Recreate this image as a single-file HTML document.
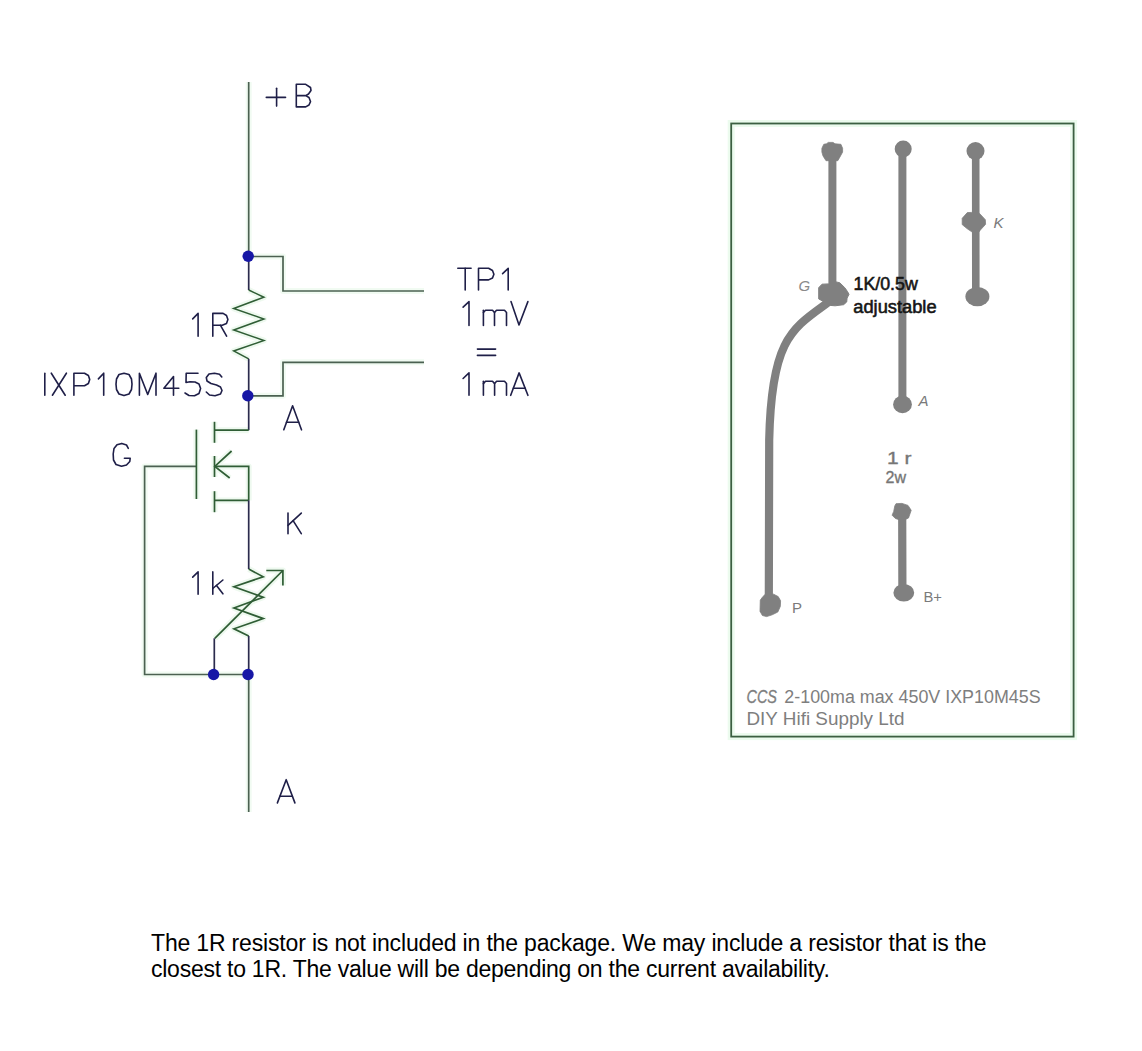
<!DOCTYPE html>
<html><head><meta charset="utf-8"><title>CCS</title>
<style>
html,body{margin:0;padding:0;background:#fff;width:1142px;height:1051px;overflow:hidden}
svg{position:absolute;left:0;top:0}
svg text{font-family:"Liberation Sans",sans-serif}
.p{position:absolute;left:151px;font-family:"Liberation Sans",sans-serif;font-size:23px;line-height:26px;color:#000;white-space:nowrap;margin:0}
</style></head><body>
<svg width="1142" height="1051" viewBox="0 0 1142 1051">
<path d="M248.7 82.0 L248.7 256.0" stroke="#f1fbf2" stroke-width="6" fill="none" stroke-linejoin="round"/>
<path d="M248.7 256.5 L283.0 256.5 L283.0 291.0 L424.0 291.0" stroke="#f1fbf2" stroke-width="6" fill="none" stroke-linejoin="round"/>
<path d="M248.7 395.8 L283.0 395.8 L283.0 362.3 L424.0 362.3" stroke="#f1fbf2" stroke-width="6" fill="none" stroke-linejoin="round"/>
<path d="M196.4 466.4 L144.6 466.4 L144.6 674.5 L248.7 674.5" stroke="#f1fbf2" stroke-width="6" fill="none" stroke-linejoin="round"/>
<path d="M248.7 674.5 L248.7 812.0" stroke="#f1fbf2" stroke-width="6" fill="none" stroke-linejoin="round"/>
<path d="M248.7 290.0 L263.9 297.2 L233.7 308.5 L263.9 319.0 L233.7 330.0 L263.9 340.5 L233.7 351.0 L248.7 358.8" stroke="#eef9ef" stroke-width="6" fill="none" stroke-linejoin="round"/>
<path d="M248.7 430.2 L214.5 430.2" stroke="#eef9ef" stroke-width="6" fill="none" stroke-linejoin="round"/>
<path d="M214.5 421.8 L214.5 442.8" stroke="#eef9ef" stroke-width="6" fill="none" stroke-linejoin="round"/>
<path d="M214.5 456.0 L214.5 477.0" stroke="#eef9ef" stroke-width="6" fill="none" stroke-linejoin="round"/>
<path d="M214.5 491.2 L214.5 512.2" stroke="#eef9ef" stroke-width="6" fill="none" stroke-linejoin="round"/>
<path d="M196.4 429.6 L196.4 499.0" stroke="#eef9ef" stroke-width="6" fill="none" stroke-linejoin="round"/>
<path d="M214.5 466.4 L248.7 466.4 L248.7 500.4" stroke="#eef9ef" stroke-width="6" fill="none" stroke-linejoin="round"/>
<path d="M231.6 451.0 L214.8 466.4 L229.7 478.0" stroke="#eef9ef" stroke-width="6" fill="none" stroke-linejoin="round"/>
<path d="M214.5 500.4 L248.7 500.4" stroke="#eef9ef" stroke-width="6" fill="none" stroke-linejoin="round"/>
<path d="M248.7 569.0 L263.2 576.8 L234.0 586.8 L263.2 597.3 L234.0 608.0 L263.2 618.6 L234.0 628.8 L248.7 635.9" stroke="#eef9ef" stroke-width="6" fill="none" stroke-linejoin="round"/>
<path d="M214.8 638.3 L282.9 570.5" stroke="#eef9ef" stroke-width="6" fill="none" stroke-linejoin="round"/>
<path d="M266.3 570.5 L282.9 570.5 L282.9 585.5" stroke="#eef9ef" stroke-width="6" fill="none" stroke-linejoin="round"/>
<path d="M248.7 82.0 L248.7 256.0" stroke="#4b6151" stroke-width="1.7" fill="none" />
<path d="M248.7 256.5 L283.0 256.5 L283.0 291.0 L424.0 291.0" stroke="#4b6151" stroke-width="1.7" fill="none" />
<path d="M248.7 395.8 L283.0 395.8 L283.0 362.3 L424.0 362.3" stroke="#4b6151" stroke-width="1.7" fill="none" />
<path d="M196.4 466.4 L144.6 466.4 L144.6 674.5 L248.7 674.5" stroke="#4b6151" stroke-width="1.7" fill="none" />
<path d="M248.7 674.5 L248.7 812.0" stroke="#4b6151" stroke-width="1.7" fill="none" />
<path d="M248.7 256.0 L248.7 290.0" stroke="#2b2b4d" stroke-width="1.7" fill="none" />
<path d="M248.7 290.0 L263.9 297.2 L233.7 308.5 L263.9 319.0 L233.7 330.0 L263.9 340.5 L233.7 351.0 L248.7 358.8" stroke="#2f5d35" stroke-width="1.5" fill="none" stroke-linejoin="miter"/>
<path d="M248.7 358.8 L248.7 395.8" stroke="#2b2b4d" stroke-width="1.7" fill="none" />
<path d="M248.7 395.8 L248.7 430.2" stroke="#2b2b4d" stroke-width="1.7" fill="none" />
<path d="M248.7 430.2 L214.5 430.2" stroke="#2f5d35" stroke-width="1.7" fill="none" />
<path d="M214.5 421.8 L214.5 442.8" stroke="#2f5d35" stroke-width="1.7" fill="none" />
<path d="M214.5 456.0 L214.5 477.0" stroke="#2f5d35" stroke-width="1.7" fill="none" />
<path d="M214.5 491.2 L214.5 512.2" stroke="#2f5d35" stroke-width="1.7" fill="none" />
<path d="M196.4 429.6 L196.4 499.0" stroke="#2f5d35" stroke-width="1.7" fill="none" />
<path d="M214.5 466.4 L248.7 466.4 L248.7 500.4" stroke="#2f5d35" stroke-width="1.7" fill="none" />
<path d="M231.6 451.0 L214.8 466.4 L229.7 478.0" stroke="#2f5d35" stroke-width="1.7" fill="none" />
<path d="M214.5 500.4 L248.7 500.4" stroke="#2f5d35" stroke-width="1.7" fill="none" />
<path d="M248.7 500.4 L248.7 569.0" stroke="#2b2b4d" stroke-width="1.7" fill="none" />
<path d="M248.7 569.0 L263.2 576.8 L234.0 586.8 L263.2 597.3 L234.0 608.0 L263.2 618.6 L234.0 628.8 L248.7 635.9" stroke="#2f5d35" stroke-width="1.7" fill="none" />
<path d="M248.7 635.9 L248.7 674.5" stroke="#2b2b4d" stroke-width="1.7" fill="none" />
<path d="M214.8 638.3 L282.9 570.5" stroke="#2f5d35" stroke-width="1.7" fill="none" />
<path d="M266.3 570.5 L282.9 570.5 L282.9 585.5" stroke="#2f5d35" stroke-width="1.7" fill="none" />
<path d="M214.3 638.3 L214.3 674.5" stroke="#2b2b4d" stroke-width="1.7" fill="none" />
<circle cx="248.2" cy="256.2" r="5.7" fill="#1717a6"/>
<circle cx="247.8" cy="395.8" r="5.7" fill="#1717a6"/>
<circle cx="213.6" cy="674.5" r="5.7" fill="#1717a6"/>
<circle cx="248.0" cy="674.5" r="5.7" fill="#1717a6"/>
<path d="M266.3 97.4 L285.5 97.4" stroke="#1f1f48" stroke-width="1.6" fill="none" stroke-linejoin="round" stroke-linecap="round"/>
<path d="M276.6 88.2 L276.6 106.1" stroke="#1f1f48" stroke-width="1.6" fill="none" stroke-linejoin="round" stroke-linecap="round"/>
<path d="M305.7 95.6 L296.3 95.6 L296.3 84.3 L305.7 84.3 L310.5 87.5 L311.0 90.5 L308.5 94.0 L305.7 95.6 L309.0 97.5 L310.5 101.6 L309.0 105.0 L305.7 106.9 L296.3 106.9 L296.3 95.6" stroke="#1f1f48" stroke-width="1.6" fill="none" stroke-linejoin="round" stroke-linecap="round"/>
<path d="M457.8 268.3 L471.1 268.3" stroke="#1f1f48" stroke-width="1.6" fill="none" stroke-linejoin="round" stroke-linecap="round"/>
<path d="M465.2 268.3 L465.2 290.0" stroke="#1f1f48" stroke-width="1.6" fill="none" stroke-linejoin="round" stroke-linecap="round"/>
<path d="M478.5 290.0 L478.5 268.3 L488.6 268.3 L492.5 270.5 L493.9 274.3 L492.5 278.0 L488.6 279.9 L478.5 279.9" stroke="#1f1f48" stroke-width="1.6" fill="none" stroke-linejoin="round" stroke-linecap="round"/>
<path d="M502.6 273.6 L508.2 268.3 L508.2 290.0" stroke="#1f1f48" stroke-width="1.6" fill="none" stroke-linejoin="round" stroke-linecap="round"/>
<path d="M463.1 307.2 L469.0 301.6 L469.0 325.4" stroke="#1f1f48" stroke-width="1.6" fill="none" stroke-linejoin="round" stroke-linecap="round"/>
<path d="M483.4 325.4 L483.4 310.2" stroke="#1f1f48" stroke-width="1.6" fill="none" stroke-linejoin="round" stroke-linecap="round"/>
<path d="M483.4 312.5 L485.5 310.2 L492.5 310.2 L494.5 312.5 L494.5 325.4" stroke="#1f1f48" stroke-width="1.6" fill="none" stroke-linejoin="round" stroke-linecap="round"/>
<path d="M494.5 312.5 L496.5 310.2 L504.5 310.2 L506.5 312.5 L506.5 325.4" stroke="#1f1f48" stroke-width="1.6" fill="none" stroke-linejoin="round" stroke-linecap="round"/>
<path d="M511.0 301.6 L519.0 325.0 L527.9 301.6" stroke="#1f1f48" stroke-width="1.6" fill="none" stroke-linejoin="round" stroke-linecap="round"/>
<path d="M477.4 349.1 L495.6 349.1" stroke="#1f1f48" stroke-width="1.6" fill="none" stroke-linejoin="round" stroke-linecap="round"/>
<path d="M477.4 355.4 L495.6 355.4" stroke="#1f1f48" stroke-width="1.6" fill="none" stroke-linejoin="round" stroke-linecap="round"/>
<path d="M463.1 378.5 L469.0 372.9 L469.0 395.3" stroke="#1f1f48" stroke-width="1.6" fill="none" stroke-linejoin="round" stroke-linecap="round"/>
<path d="M483.4 395.3 L483.4 381.3" stroke="#1f1f48" stroke-width="1.6" fill="none" stroke-linejoin="round" stroke-linecap="round"/>
<path d="M483.4 383.6 L485.5 381.3 L492.5 381.3 L494.6 383.6 L494.6 395.3" stroke="#1f1f48" stroke-width="1.6" fill="none" stroke-linejoin="round" stroke-linecap="round"/>
<path d="M494.6 383.6 L496.6 381.3 L504.5 381.3 L506.5 383.6 L506.5 395.3" stroke="#1f1f48" stroke-width="1.6" fill="none" stroke-linejoin="round" stroke-linecap="round"/>
<path d="M510.7 395.3 L519.1 372.9 L527.9 395.3" stroke="#1f1f48" stroke-width="1.6" fill="none" stroke-linejoin="round" stroke-linecap="round"/>
<path d="M513.3 388.3 L525.3 388.3" stroke="#1f1f48" stroke-width="1.6" fill="none" stroke-linejoin="round" stroke-linecap="round"/>
<path d="M192.7 318.9 L198.1 313.4 L198.1 336.2" stroke="#1f1f48" stroke-width="1.6" fill="none" stroke-linejoin="round" stroke-linecap="round"/>
<path d="M212.8 336.2 L212.8 313.4 L223.1 313.4 L226.5 315.5 L227.9 319.6 L226.5 323.5 L222.2 325.3 L212.8 325.3" stroke="#1f1f48" stroke-width="1.6" fill="none" stroke-linejoin="round" stroke-linecap="round"/>
<path d="M220.5 325.3 L226.6 336.2" stroke="#1f1f48" stroke-width="1.6" fill="none" stroke-linejoin="round" stroke-linecap="round"/>
<path d="M44.8 373.2 L44.8 395.2" stroke="#1f1f48" stroke-width="1.6" fill="none" stroke-linejoin="round" stroke-linecap="round"/>
<path d="M51.3 373.2 L65.2 395.2" stroke="#1f1f48" stroke-width="1.6" fill="none" stroke-linejoin="round" stroke-linecap="round"/>
<path d="M66.4 373.2 L52.4 395.2" stroke="#1f1f48" stroke-width="1.6" fill="none" stroke-linejoin="round" stroke-linecap="round"/>
<path d="M73.9 395.2 L73.9 373.2 L84.5 373.2 L88.4 375.5 L89.7 379.5 L88.4 383.5 L84.5 385.7 L73.9 385.7" stroke="#1f1f48" stroke-width="1.6" fill="none" stroke-linejoin="round" stroke-linecap="round"/>
<path d="M98.4 378.9 L103.7 373.2 L103.7 395.2" stroke="#1f1f48" stroke-width="1.6" fill="none" stroke-linejoin="round" stroke-linecap="round"/>
<path d="M124.0 373.2 L119.0 374.5 L116.5 379.0 L116.0 384.2 L116.5 389.5 L119.0 394.0 L124.0 395.6 L129.0 394.0 L131.5 389.5 L132.0 384.2 L131.5 379.0 L129.0 374.5 L124.0 373.2" stroke="#1f1f48" stroke-width="1.6" fill="none" stroke-linejoin="round" stroke-linecap="round"/>
<path d="M139.4 395.2 L139.4 373.2 L147.7 394.5 L156.0 373.2 L156.0 395.2" stroke="#1f1f48" stroke-width="1.6" fill="none" stroke-linejoin="round" stroke-linecap="round"/>
<path d="M173.5 395.2 L173.5 376.5 L163.9 388.3 L178.8 388.3" stroke="#1f1f48" stroke-width="1.6" fill="none" stroke-linejoin="round" stroke-linecap="round"/>
<path d="M198.0 373.2 L186.2 373.2 L186.0 382.5 L190.0 381.8 L195.0 382.0 L199.0 384.0 L200.6 388.5 L199.0 393.5 L194.5 395.8 L189.0 395.5 L185.0 393.0" stroke="#1f1f48" stroke-width="1.6" fill="none" stroke-linejoin="round" stroke-linecap="round"/>
<path d="M221.8 377.0 L219.5 374.2 L214.5 373.2 L209.0 374.0 L206.3 377.5 L207.0 381.0 L211.0 383.5 L216.5 385.0 L220.5 387.0 L222.0 390.5 L220.5 394.0 L215.0 395.8 L209.5 395.0 L206.3 392.0" stroke="#1f1f48" stroke-width="1.6" fill="none" stroke-linejoin="round" stroke-linecap="round"/>
<path d="M283.8 429.8 L292.6 405.8 L301.5 429.8" stroke="#1f1f48" stroke-width="1.6" fill="none" stroke-linejoin="round" stroke-linecap="round"/>
<path d="M286.4 422.3 L298.8 422.3" stroke="#1f1f48" stroke-width="1.6" fill="none" stroke-linejoin="round" stroke-linecap="round"/>
<path d="M128.3 448.3 L126.5 445.0 L121.8 443.4 L117.0 444.8 L114.0 448.5 L113.2 454.0 L113.5 460.0 L116.0 464.5 L121.5 466.3 L126.5 465.0 L129.8 461.5 L130.2 458.2 L124.4 458.2" stroke="#1f1f48" stroke-width="1.6" fill="none" stroke-linejoin="round" stroke-linecap="round"/>
<path d="M288.0 513.1 L288.0 533.7" stroke="#1f1f48" stroke-width="1.6" fill="none" stroke-linejoin="round" stroke-linecap="round"/>
<path d="M288.0 525.3 L301.3 513.1" stroke="#1f1f48" stroke-width="1.6" fill="none" stroke-linejoin="round" stroke-linecap="round"/>
<path d="M293.1 520.6 L301.3 533.7" stroke="#1f1f48" stroke-width="1.6" fill="none" stroke-linejoin="round" stroke-linecap="round"/>
<path d="M192.7 577.1 L198.1 571.9 L198.1 594.2" stroke="#1f1f48" stroke-width="1.6" fill="none" stroke-linejoin="round" stroke-linecap="round"/>
<path d="M212.8 571.9 L212.8 594.2" stroke="#1f1f48" stroke-width="1.6" fill="none" stroke-linejoin="round" stroke-linecap="round"/>
<path d="M212.8 588.5 L222.9 580.0" stroke="#1f1f48" stroke-width="1.6" fill="none" stroke-linejoin="round" stroke-linecap="round"/>
<path d="M216.5 585.4 L222.9 593.8" stroke="#1f1f48" stroke-width="1.6" fill="none" stroke-linejoin="round" stroke-linecap="round"/>
<path d="M277.4 802.9 L286.2 779.7 L294.9 802.9" stroke="#1f1f48" stroke-width="1.6" fill="none" stroke-linejoin="round" stroke-linecap="round"/>
<path d="M279.9 796.3 L292.3 796.3" stroke="#1f1f48" stroke-width="1.6" fill="none" stroke-linejoin="round" stroke-linecap="round"/>
<rect x="731.2" y="123.5" width="342.4" height="613.1" fill="none" stroke="#ecfbee" stroke-width="7"/>
<rect x="731.2" y="123.5" width="342.4" height="613.1" fill="none" stroke="#3b5f41" stroke-width="1.8"/>
<path d="M832.4 152.0 L832.4 292.0" stroke="#808080" stroke-width="8" fill="none" stroke-linecap="round" stroke-linejoin="round"/>
<path d="M902.4 149.0 L902.4 404.0" stroke="#808080" stroke-width="8" fill="none" stroke-linecap="round" stroke-linejoin="round"/>
<path d="M975.7 151.0 L975.8 296.0" stroke="#808080" stroke-width="7.6" fill="none" stroke-linecap="round" stroke-linejoin="round"/>
<path d="M902.2 511.0 L902.4 592.0" stroke="#808080" stroke-width="8.2" fill="none" stroke-linecap="round" stroke-linejoin="round"/>
<path d="M828 302.5 C792.3 328.5 771.4 338.2 769.2 440 L768.8 604" stroke="#808080" stroke-width="8.2" fill="none" stroke-linecap="round" stroke-linejoin="round"/>
<path d="M822 284.2 L828.6 283.9 L835.9 281.9 L839.7 282.7 L844.8 287.7 L847.5 291.6 L849 294.3 L847.1 298.1 L846.7 302 L843.6 304.7 L835.1 305.8 L830.5 305.4 L818.7 298.9 L818.7 287.7 Z" fill="#808080" stroke="#808080" stroke-width="1" stroke-linejoin="round"/>
<path d="M828.3 142.4 L833 142.4 L835 143.8 L840.9 144.3 L842.6 148.3 L842.6 152.1 L840.5 155.9 L837.8 160.7 L826 160.7 L823 155.9 L821.9 152.1 L821.9 148.3 L823.8 144.3 L826.5 143.8 Z" fill="#808080" stroke="#808080" stroke-width="0.8" stroke-linejoin="round"/>
<ellipse cx="903.2" cy="149" rx="8.5" ry="8.5" fill="#808080"/>
<ellipse cx="975.5" cy="151" rx="9" ry="9" fill="#808080"/>
<path d="M967.3 212.6 L971.8 212.4 L979.5 213.4 L985.3 219.7 L985.6 224.3 L980.2 230.2 L979.5 231.4 L971.8 231.8 L967.3 228.8 L962.2 224.6 L962.2 218.3 Z" fill="#808080" stroke="#808080" stroke-width="0.8" stroke-linejoin="round"/>
<ellipse cx="977.4" cy="296.6" rx="12" ry="9.6" fill="#808080"/>
<ellipse cx="902.5" cy="404.4" rx="9.4" ry="8.8" fill="#808080"/>
<path d="M896 503.7 L902 503.4 L908 505.4 L911.2 510.3 L908.5 518 L902.5 520.7 L895.4 518.5 L892.1 515.2 L893.7 511.4 L894.8 505.9 Z" fill="#808080" stroke="#808080" stroke-width="0.8" stroke-linejoin="round"/>
<ellipse cx="903.8" cy="592.8" rx="10.4" ry="8.8" fill="#808080"/>
<path d="M764.9 594.5 L773.6 594.2 L778.2 596.6 L780.6 600.8 L780.3 606.4 L777.8 612 L772.2 614.8 L766.6 616.6 L762.4 615.5 L760 611.3 L760.3 600.1 L762.4 597.3 Z" fill="#808080" stroke="#808080" stroke-width="0.8" stroke-linejoin="round"/>
<text x="798.5" y="291.3" font-size="15" fill="#8a8a8a" font-weight="normal" font-style="italic">G</text>
<text x="993.5" y="227.7" font-size="15" fill="#7a7a7a" font-weight="normal" font-style="italic">K</text>
<text x="918.5" y="406.3" font-size="15" fill="#7a7a7a" font-weight="normal" font-style="italic">A</text>
<text x="792" y="613.4" font-size="15" fill="#7a7a7a" font-weight="normal" font-style="normal">P</text>
<text x="923.5" y="601.6" font-size="14" fill="#7a7a7a" font-weight="normal" font-style="normal" textLength="18.5" lengthAdjust="spacingAndGlyphs">B+</text>
<text x="853.5" y="290" font-size="17.5" fill="#151515" font-weight="normal" font-style="normal" textLength="64.3" lengthAdjust="spacingAndGlyphs" stroke="#151515" stroke-width="0.55">1K/0.5w</text>
<text x="853.3" y="313.2" font-size="17.5" fill="#151515" font-weight="normal" font-style="normal" textLength="83.3" lengthAdjust="spacingAndGlyphs" stroke="#151515" stroke-width="0.55">adjustable</text>
<text x="887" y="463.8" font-size="17" fill="#767676" font-weight="normal" font-style="normal" textLength="24.5" lengthAdjust="spacingAndGlyphs" stroke="#767676" stroke-width="0.35">1 r</text>
<text x="885.5" y="483.1" font-size="17" fill="#767676" font-weight="normal" font-style="normal" textLength="20.5" lengthAdjust="spacingAndGlyphs" stroke="#767676" stroke-width="0.35">2w</text>
<text x="746.5" y="703" font-size="17.5" fill="#7e7e7e" font-weight="normal" font-style="italic" textLength="30.5" lengthAdjust="spacingAndGlyphs" stroke="#7e7e7e" stroke-width="0.3">CCS</text>
<text x="784.3" y="703" font-size="17.5" fill="#7e7e7e" font-weight="normal" font-style="normal" textLength="256.3" lengthAdjust="spacingAndGlyphs">2-100ma max 450V IXP10M45S</text>
<text x="746.5" y="724.7" font-size="17.5" fill="#7e7e7e" font-weight="normal" font-style="normal" textLength="158" lengthAdjust="spacingAndGlyphs">DIY Hifi Supply Ltd</text>
</svg>
<div class="p" style="top:929.5px;letter-spacing:-0.17px">The 1R resistor is not included in the package. We may include a resistor that is the</div>
<div class="p" style="top:956px;letter-spacing:-0.245px">closest to 1R. The value will be depending on the current availability.</div>
</body></html>
